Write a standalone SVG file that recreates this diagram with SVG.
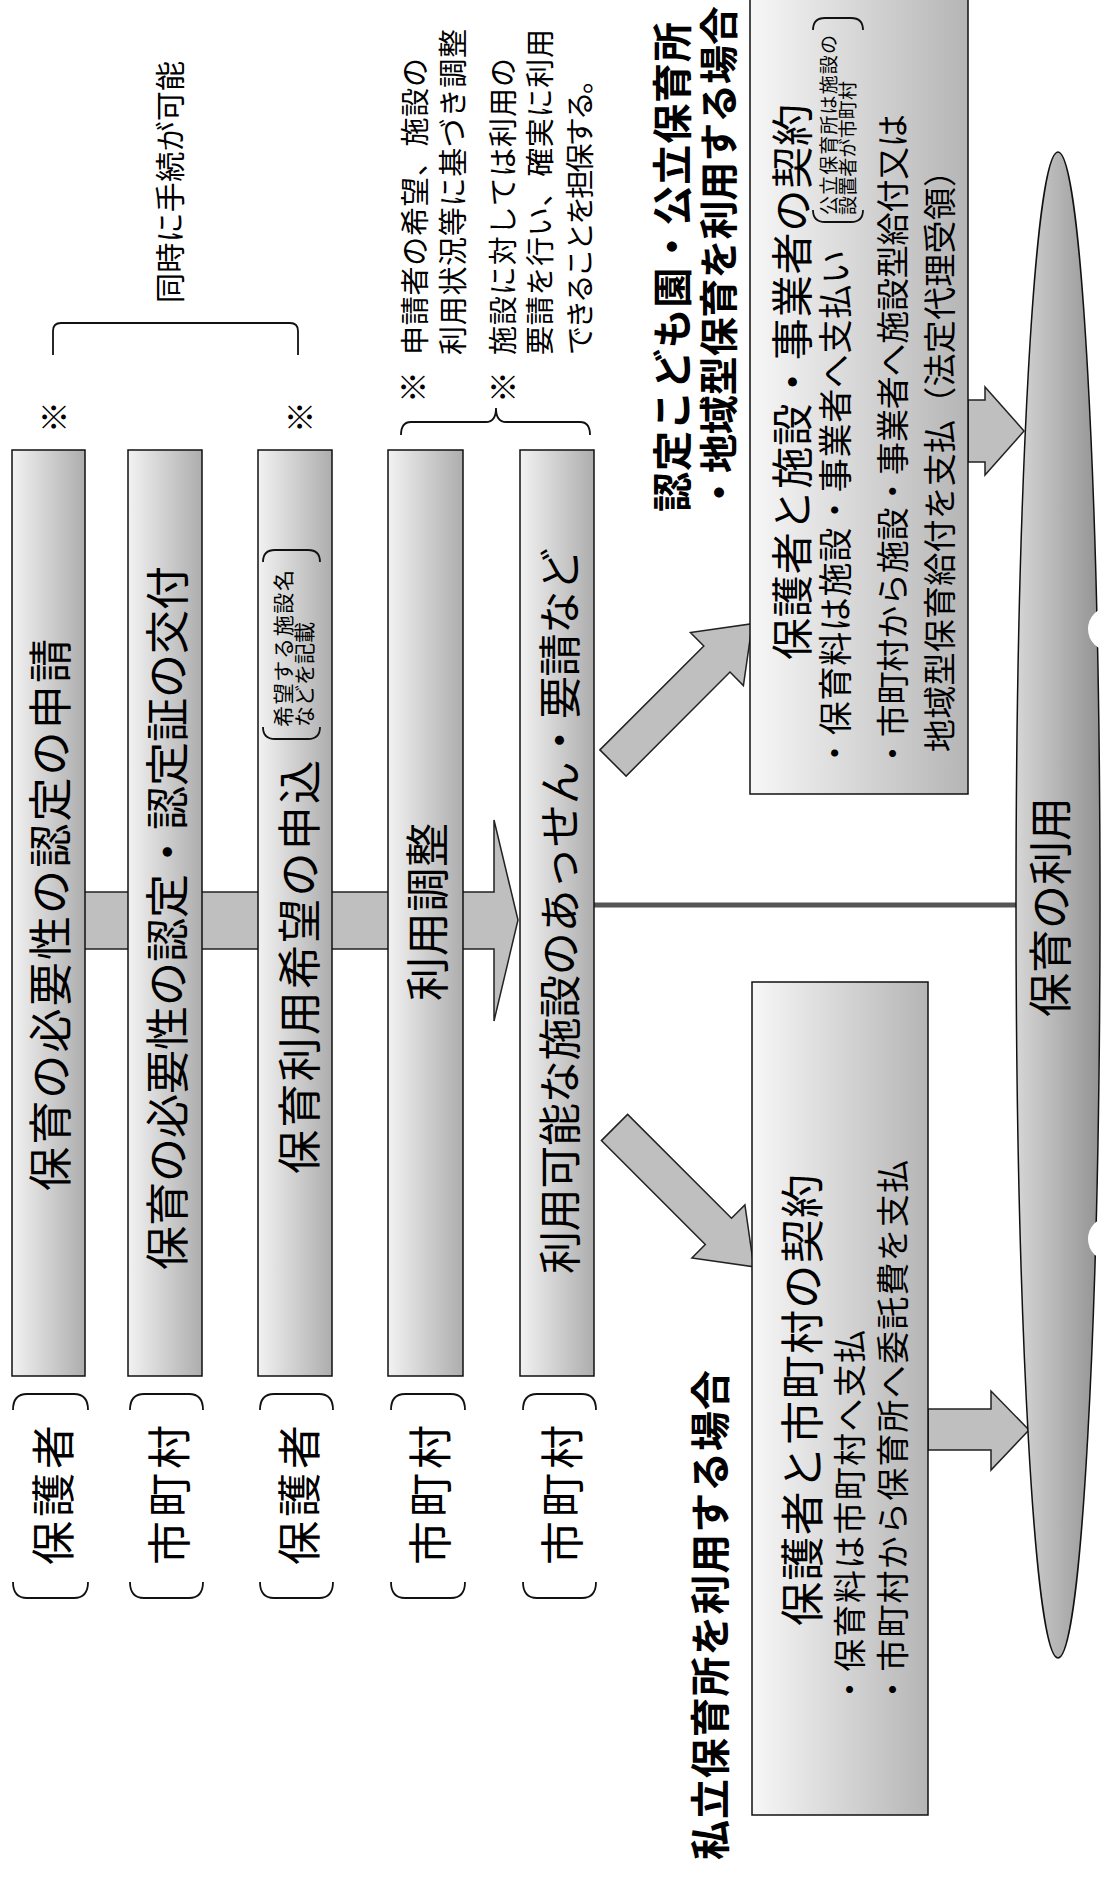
<svg xmlns="http://www.w3.org/2000/svg" width="1104" height="1887" viewBox="0 0 1104 1887">
<style>
.t{font-family:"Noto Sans CJK JP","Noto Sans CJK SC",sans-serif;fill:#000;dominant-baseline:central}
.b{font-weight:700}
.m{text-anchor:middle}
.s{text-anchor:start}
.k{font-size:32px}
.bar{fill:url(#gBar);stroke:#111;stroke-width:1.5}
.box{fill:url(#gBox);stroke:#111;stroke-width:1.5}
.arr{fill:#bfbfbf;stroke:#222;stroke-width:1.5;stroke-linejoin:miter}
.br{fill:none;stroke:#111;stroke-width:1.8}
</style>
<defs>
<linearGradient id="gBar" x1="0" y1="0" x2="1" y2="0">
<stop offset="0" stop-color="#f2f2f2"/><stop offset="1" stop-color="#adadad"/>
</linearGradient>
<linearGradient id="gBox" x1="0" y1="0" x2="1" y2="0">
<stop offset="0" stop-color="#f7f7f7"/><stop offset="1" stop-color="#b5b5b5"/>
</linearGradient>
<linearGradient id="gEll" x1="0" y1="0" x2="1" y2="0">
<stop offset="0" stop-color="#d6d6d6"/><stop offset="1" stop-color="#939393"/>
</linearGradient>
</defs>
<rect width="1104" height="1887" fill="#fff"/>

<g id="connectors">
<path class="arr" d="M30,892 L494,892 L494,820 L518,920 L494,1021 L494,949 L30,949 Z"/>
<line x1="594" y1="905" x2="1016" y2="905" stroke="#555" stroke-width="5"/>
<polygon class="arr" points="599.9,749.9 703.8,646 690.4,632.6 752.3,623.7 743.4,685.6 730,672 626.1,776.1"/>
<polygon class="arr" points="627.6,1114.4 731.5,1218.3 744.9,1204.9 753.8,1266.8 691.9,1257.9 705.3,1244.5 601.4,1140.6"/>
<polygon class="arr" points="968,400 985,400 985,387 1024,431 985,475 985,462 968,462"/>
<polygon class="arr" points="928,1409 991,1409 991,1391 1029,1430 991,1470 991,1450 928,1450"/>
</g>

<g id="bar1"><rect class="bar" x="12" y="450" width="73" height="926"/>
<text class="t m" font-size="44" textLength="552" transform="translate(48,915) rotate(-90)">保育の必要性の認定の申請</text></g>
<g id="bar2"><rect class="bar" x="128" y="450" width="74" height="926"/>
<text class="t m" font-size="44" textLength="704" transform="translate(165,918) rotate(-90)">保育の必要性の認定・認定証の交付</text></g>
<g id="bar3"><rect class="bar" x="258" y="450" width="74" height="926"/>
<text class="t m" font-size="44" textLength="414" transform="translate(297,967) rotate(-90)">保育利用希望の申込</text>
<path class="br" d="M263,562 Q263,550 275,550 L308,550 Q320,550 320,562 M263,727 Q263,739 275,739 L308,739 Q320,739 320,727"/>
<text class="t s" font-size="21" textLength="157" transform="translate(282,727) rotate(-90)">希望する施設名</text>
<text class="t s" font-size="21" transform="translate(303,727) rotate(-90)">などを記載</text></g>
<g id="bar4"><rect class="bar" x="388" y="450" width="75" height="926"/>
<text class="t m" font-size="44" textLength="178" transform="translate(425,912) rotate(-90)">利用調整</text></g>
<g id="bar5"><rect class="bar" x="520" y="450" width="74" height="926"/>
<text class="t m" font-size="43" textLength="726" transform="translate(557,911) rotate(-90)">利用可能な施設のあっせん・要請など</text></g>

<g id="labels">
<path class="br" d="M13,1410 Q13,1394 27,1394 L74,1394 Q88,1394 88,1410 M13,1582 Q13,1598 27,1598 L74,1598 Q88,1598 88,1582"/>
<path class="br" d="M130,1410 Q130,1394 144,1394 L189,1394 Q203,1394 203,1410 M130,1582 Q130,1598 144,1598 L189,1598 Q203,1598 203,1582"/>
<path class="br" d="M260,1410 Q260,1394 274,1394 L319,1394 Q333,1394 333,1410 M260,1582 Q260,1598 274,1598 L319,1598 Q333,1598 333,1582"/>
<path class="br" d="M391,1410 Q391,1394 405,1394 L451,1394 Q465,1394 465,1410 M391,1582 Q391,1598 405,1598 L451,1598 Q465,1598 465,1582"/>
<path class="br" d="M523,1410 Q523,1394 537,1394 L582,1394 Q596,1394 596,1410 M523,1582 Q523,1598 537,1598 L582,1598 Q596,1598 596,1582"/>
<text class="t m" font-size="44" textLength="140" transform="translate(51,1495) rotate(-90)">保護者</text>
<text class="t m" font-size="44" textLength="140" transform="translate(167,1495) rotate(-90)">市町村</text>
<text class="t m" font-size="44" textLength="140" transform="translate(297,1495) rotate(-90)">保護者</text>
<text class="t m" font-size="44" textLength="140" transform="translate(428,1495) rotate(-90)">市町村</text>
<text class="t m" font-size="44" textLength="140" transform="translate(560,1495) rotate(-90)">市町村</text>
</g>

<g id="note-simultaneous">
<path class="br" d="M53,355 L53,331 Q53,323 61,323 L290,323 Q298,323 298,331 L298,355"/>
<text class="t m" font-size="30" textLength="242" transform="translate(168,182) rotate(-90)">同時に手続が可能</text>
<text class="t m k" transform="translate(52,417) rotate(-90)">※</text>
<text class="t m k" transform="translate(298,417) rotate(-90)">※</text>
</g>

<g id="note-adjust">
<path class="br" d="M401,435 Q401,422 411,422 L486,422 Q496,422 496,408 Q496,422 506,422 L580,422 Q590,422 590,435"/>
<text class="t m k" transform="translate(411,387) rotate(-90)">※</text>
<text class="t m k" transform="translate(501,387) rotate(-90)">※</text>
<text class="t s" font-size="29" textLength="297" transform="translate(413,355) rotate(-90)">申請者の希望、施設の</text>
<text class="t s" font-size="29" textLength="326" transform="translate(451,355) rotate(-90)">利用状況等に基づき調整</text>
<text class="t s" font-size="29" textLength="297" transform="translate(501,355) rotate(-90)">施設に対しては利用の</text>
<text class="t s" font-size="29" textLength="326" transform="translate(538,355) rotate(-90)">要請を行い、確実に利用</text>
<text class="t s" font-size="29" textLength="290" transform="translate(578,355) rotate(-90)">できることを担保する。</text>
</g>

<g id="title-b">
<text class="t s b" font-size="40" textLength="490" transform="translate(670,512) rotate(-90)">認定こども園・公立保育所</text>
<text class="t s b" font-size="39" textLength="506" transform="translate(716,512) rotate(-90)">・地域型保育を利用する場合</text>
</g>
<g id="box-b"><rect class="box" x="750" y="-30" width="218" height="824"/>
<text class="t s" font-size="42" textLength="556" transform="translate(789,660) rotate(-90)">保護者と施設・事業者の契約</text>
<text class="t s" font-size="34" textLength="520" transform="translate(833,770) rotate(-90)">・保育料は施設・事業者へ支払い</text>
<path class="br" d="M813,30 Q813,18 825,18 L851,18 Q863,18 863,30 M813,210 Q813,222 825,222 L851,222 Q863,222 863,210"/>
<text class="t s" font-size="19" textLength="180" transform="translate(827,215) rotate(-90)">公立保育所は施設の</text>
<text class="t s" font-size="19" textLength="134" transform="translate(846,215) rotate(-90)">設置者が市町村</text>
<text class="t s" font-size="33" textLength="656" transform="translate(891,770) rotate(-90)">・市町村から施設・事業者へ施設型給付又は</text>
<text class="t s" font-size="33" textLength="598" transform="translate(938,752) rotate(-90)">地域型保育給付を支払（法定代理受領）</text>
</g>

<g id="title-a">
<text class="t s b" font-size="40" textLength="490" transform="translate(708,1860) rotate(-90)">私立保育所を利用する場合</text>
</g>
<g id="box-a"><rect class="box" x="752" y="982" width="176" height="833"/>
<text class="t m" font-size="44" textLength="452" transform="translate(800,1400) rotate(-90)">保護者と市町村の契約</text>
<text class="t s" font-size="33" textLength="376" transform="translate(848,1706) rotate(-90)">・保育料は市町村へ支払</text>
<text class="t s" font-size="33" textLength="546" transform="translate(891,1706) rotate(-90)">・市町村から保育所へ委託費を支払</text>
</g>

<g id="use">
<ellipse cx="1058" cy="905" rx="42" ry="753" fill="url(#gEll)" stroke="#111" stroke-width="1.5"/>
<circle cx="1110" cy="629" r="22" fill="#fff"/>
<circle cx="1110" cy="1239" r="22" fill="#fff"/>
<text class="t m" font-size="44" textLength="220" transform="translate(1048,907) rotate(-90)">保育の利用</text>
</g>
</svg>
